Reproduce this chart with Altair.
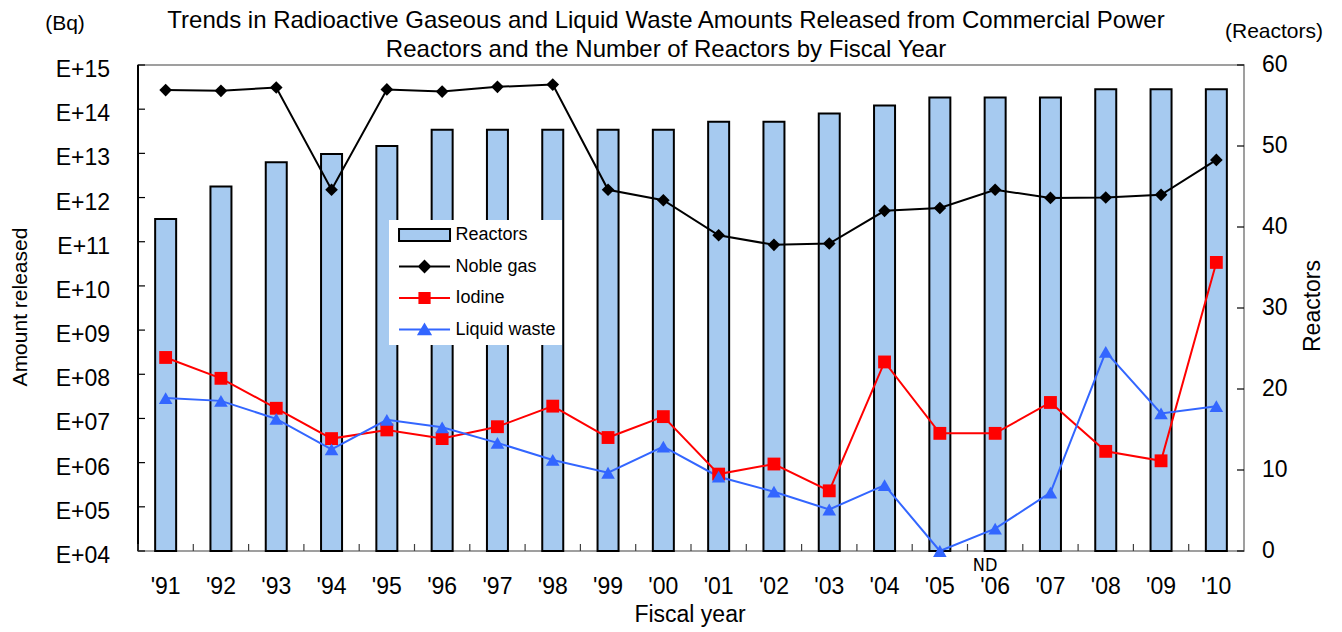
import altair as alt
import pandas as pd

# ---------------- data ----------------
years = ["'91", "'92", "'93", "'94", "'95", "'96", "'97", "'98", "'99", "'00",
         "'01", "'02", "'03", "'04", "'05", "'06", "'07", "'08", "'09", "'10"]
reactors = [41, 45, 48, 49, 50, 52, 52, 52, 52, 52,
            53, 53, 54, 55, 56, 56, 56, 57, 57, 57]
noble_gas = [2.7e14, 2.6e14, 3.1e14, 1.5e12, 2.8e14, 2.5e14, 3.2e14, 3.6e14, 1.5e12, 8.7e11,
             1.4e11, 8.5e10, 9.1e10, 5.0e11, 5.8e11, 1.5e12, 9.8e11, 1.0e12, 1.15e12, 7.1e12]
iodine = [2.4e8, 8.1e7, 1.7e7, 3.5e6, 5.5e6, 3.5e6, 6.5e6, 1.9e7, 3.7e6, 1.1e7,
          5.5e5, 9.3e5, 2.3e5, 1.9e8, 4.6e6, 4.6e6, 2.3e7, 1.8e6, 1.1e6, 3.4e10]
liquid_waste = [2.9e7, 2.5e7, 9.8e6, 2.0e6, 9.3e6, 6.3e6, 2.8e6, 1.15e6, 5.9e5, 2.3e6,
                4.8e5, 2.2e5, 8.7e4, 3.1e5, 1.0e4, 3.2e4, 2.1e5, 3.2e8, 1.3e7, 1.9e7]
series_names = ["Reactors", "Noble gas", "Iodine", "Liquid waste"]
decade_exponents = [4, 5, 6, 7, 8, 9, 10, 11, 12, 13, 14, 15]
decade_labels = ["E+04", "E+05", "E+06", "E+07", "E+08", "E+09",
                 "E+10", "E+11", "E+12", "E+13", "E+14", "E+15"]
reactor_ticks = [0, 10, 20, 30, 40, 50, 60]
nd_note = {"year": ["'06"], "note": ["ND"]}
title_lines = ["Trends in Radioactive Gaseous and Liquid Waste Amounts Released from Commercial Power",
               "Reactors and the Number of Reactors by Fiscal Year"]
left_unit = "(Bq)"
right_unit = "(Reactors)"
left_title = "Amount released"
right_title = "Reactors"
x_title = "Fiscal year"

decade_values = [10.0 ** e for e in decade_exponents]

# ---------------- styling ----------------
W, H = 1106, 486
FONT = "Liberation Sans"
NARROW = "'Liberation Sans Narrow', 'DejaVu Sans Condensed', sans-serif"
BAR_BLUE = "#a6caf0"
LINE_BLUE = "#3366ff"
GRAY = "#808080"
TICK_FS = 23

bars_df = pd.DataFrame({"year": years, "reactors": reactors})
lines_df = pd.DataFrame({
    "year": years * 3,
    "series": ["Noble gas"] * 20 + ["Iodine"] * 20 + ["Liquid waste"] * 20,
    "value": noble_gas + iodine + liquid_waste,
})

x_scale = alt.Scale(domain=years, paddingInner=0, paddingOuter=0)
x_plain = alt.X("year:N", sort=years, scale=x_scale, axis=None)
log_scale = alt.Scale(type="log", domain=[1e4, 1e15], nice=False)
y_log = alt.Y("value:Q", scale=log_scale, axis=None)
react_scale = alt.Scale(domain=[0, 60], nice=False, zero=True)
y_react = alt.Y("reactors:Q", scale=react_scale, axis=None)

# ---- bar layer (right scale) ----
bars = alt.Chart(bars_df).mark_bar(size=21, fill=BAR_BLUE, stroke="black",
                                   strokeWidth=2, opacity=1).encode(x=x_plain, y=y_react)
react_ticks_df = pd.DataFrame({"reactors": reactor_ticks})
right_ticks = alt.Chart(react_ticks_df).mark_rule(color="black", strokeWidth=1.2).encode(
    y=y_react, x=alt.value(W - 7), x2=alt.value(W))
right_labels = alt.Chart(react_ticks_df).mark_text(
    align="left", baseline="middle", fontSize=TICK_FS, color="black").encode(
    y=y_react, x=alt.value(W + 18), text="reactors:Q")
bar_layer = alt.layer(bars, right_ticks, right_labels)

# ---- line layer (left log scale) ----
line_colors = ["black", "red", LINE_BLUE]
lines = alt.Chart(lines_df).mark_line(strokeWidth=2).encode(
    x=x_plain, y=y_log,
    color=alt.Color("series:N", scale=alt.Scale(domain=series_names[1:], range=line_colors),
                    legend=None))


def pts(name, shape, size, color):
    return alt.Chart(lines_df).transform_filter(alt.datum.series == name).mark_point(
        shape=shape, size=size, filled=True, color=color, opacity=1, strokeWidth=0).encode(
        x=x_plain, y=y_log)


noble_pts = pts("Noble gas", "diamond", 160, "black")
iodine_pts = pts("Iodine", "square", 165, "red")
liquid_pts = pts("Liquid waste", "triangle-up", 185, LINE_BLUE)

decades_df = pd.DataFrame({"value": decade_values, "label": decade_labels})
left_ticks = alt.Chart(decades_df).mark_rule(color="black", strokeWidth=1.2).encode(
    y=y_log, x=alt.value(0), x2=alt.value(7))
left_labels = alt.Chart(decades_df).mark_text(
    align="right", baseline="middle", fontSize=TICK_FS, color="black", dy=5).encode(
    y=y_log, x=alt.value(-28), text="label:N")
left_domain = alt.Chart(decades_df).mark_rule(color="black", strokeWidth=1.5).encode(
    x=alt.value(0), y=alt.value(0), y2=alt.value(H))

x_ticks = alt.Chart(bars_df).mark_rule(color="#404040", strokeWidth=1.2).encode(
    x=alt.X("year:N", sort=years, scale=x_scale, axis=None, bandPosition=0),
    y=alt.value(H - 7), y2=alt.value(H))
x_labels = alt.Chart(bars_df).mark_text(
    baseline="middle", fontSize=TICK_FS, color="black").encode(
    x=x_plain, y=alt.value(H + 36), text="year:N")

nd_text = alt.Chart(pd.DataFrame(nd_note)).mark_text(
    font=NARROW, fontSize=18, dx=-10, baseline="middle", color="black").encode(
    x=x_plain, y=alt.value(501), text="note:N")


def note(txt, x, y, size=21, angle=0):
    return alt.Chart(pd.DataFrame({"t": [txt]})).mark_text(
        fontSize=size, baseline="middle", align="center", angle=angle, color="black").encode(
        x=alt.value(x), y=alt.value(y), text="t:N")


bq_text = note(left_unit, -73, -41)
react_text = note(right_unit, 1136, -33)
left_title_text = note(left_title, -117, 242, 21, 270)
right_title_text = note(right_title, 1175, 241, 23, 270)
x_title_text = note(x_title, 552, 550, 23)

# ---- legend (built from scales, entries from the series list) ----
legend_paths = [
    "M-1,-0.94H7V0.94H-1Z",
    "M-1,0H7M3,-0.86L3.86,0L3,0.86L2.14,0Z",
    "M-1,0H7M2.2,-0.8H3.8V0.8H2.2Z",
    "M-1,0H7M3,-0.8L3.92,0.75H2.08Z",
]
legend_fills = [BAR_BLUE, "black", "red", LINE_BLUE]
legend_strokes = ["black", "black", "red", LINE_BLUE]
leg = alt.Legend(title=None, orient="none", legendX=251, legendY=155, fillColor="white",
                 padding=6, labelFontSize=18, labelFont=FONT, labelColor="black",
                 symbolSize=162.5, symbolStrokeWidth=2, symbolOffset=1.4, labelOffset=41,
                 rowPadding=11.5, labelLimit=300)
legend_layer = alt.Chart(lines_df).transform_filter("false").mark_point(
    filled=True, opacity=1, size=162.5).encode(
    shape=alt.Shape("series:N", scale=alt.Scale(domain=series_names, range=legend_paths), legend=leg),
    fill=alt.Fill("series:N", scale=alt.Scale(domain=series_names, range=legend_fills), legend=leg),
    stroke=alt.Stroke("series:N", scale=alt.Scale(domain=series_names, range=legend_strokes), legend=leg),
)

line_layer = alt.layer(lines, noble_pts, iodine_pts, liquid_pts, left_ticks, left_labels,
                       left_domain, x_ticks, x_labels, nd_text, bq_text, react_text,
                       left_title_text, right_title_text, x_title_text, legend_layer)

chart = alt.layer(bar_layer, line_layer).resolve_scale(y="independent").properties(
    width=W, height=H,
    autosize=alt.AutoSizeParams(type="none"),
    padding={"left": 130, "top": 57, "right": 90, "bottom": 81},
    title=alt.TitleParams(text=title_lines, fontSize=24, font=FONT, fontWeight="normal",
                          anchor="middle", dx=-25, dy=53, lineHeight=29, color="black"),
    background="white",
).configure(font=FONT).configure_view(stroke=GRAY, strokeWidth=1.5)

chart.save("out.html", embed_options={"renderer": "svg", "actions": False})
